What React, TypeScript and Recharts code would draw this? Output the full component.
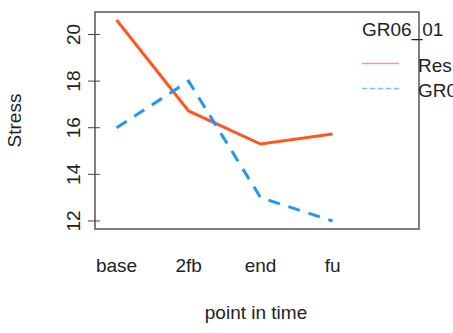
import { LineChart, Line, XAxis, YAxis, ReferenceArea } from "recharts";

const timePoints = ["base", "2fb", "end", "fu"];
const restValues = [20.62, 16.72, 15.3, 15.73];
const groupValues = [16.0, 18.0, 13.0, 12.0];
const seriesNames = ["Res", "GR0"];
const yTicks = [12, 14, 16, 18, 20];

const data = timePoints.map((t, i) => ({
  pos: i + 1,
  label: t,
  rest: restValues[i],
  group: groupValues[i],
}));

const FONT = "'Liberation Sans', Arial, sans-serif";
const RED = "#FF5722";
const BLUE = "#2196F3";

function YTick(props: any) {
  const { x, y, payload } = props;
  return (
    <g>
      <line x1={x + 1} x2={x + 13} y1={y} y2={y} stroke="#444" strokeWidth={1} />
      <text
        x={0}
        y={0}
        transform={`translate(${x - 7},${y}) rotate(-90)`}
        textAnchor="middle"
        fontSize={19}
        fontFamily={FONT}
        fill="#222"
      >
        {payload.value}
      </text>
    </g>
  );
}

function XTick(props: any) {
  const { x, payload } = props;
  return (
    <text x={x} y={272} textAnchor="middle" fontSize={19} fontFamily={FONT} fill="#222">
      {timePoints[payload.value - 1]}
    </text>
  );
}

function LegendBox() {
  return (
    <svg width={91} height={110} style={{ position: "absolute", left: 362, top: 0, overflow: "hidden" }}>
      <text x={0} y={36} fontSize={19} fontFamily={FONT} fill="#222">
        GR06_01
      </text>
      <line x1={0} x2={37} y1={63.5} y2={63.5} stroke={RED} strokeWidth={1.5} opacity={0.6} />
      <line x1={0} x2={37} y1={88.5} y2={88.5} stroke={BLUE} strokeWidth={1.5} strokeDasharray="5 3" opacity={0.6} />
      <text x={56} y={72} fontSize={19} fontFamily={FONT} fill="#222">
        {seriesNames[0]}
      </text>
      <text x={56} y={97} fontSize={19} fontFamily={FONT} fill="#222">
        {seriesNames[1]}
      </text>
    </svg>
  );
}

export default function App() {
  return (
    <div style={{ position: "absolute", left: 0, top: 0, width: 453, height: 333, overflow: "hidden", background: "#fff" }}>
      <LineChart
        width={453}
        height={333}
        data={data}
        margin={{ top: 12, right: 34, left: 35, bottom: 44 }}
      >
        <XAxis
          dataKey="pos"
          type="number"
          domain={[0.7, 5.2]}
          ticks={[1, 2, 3, 4]}
          axisLine={false}
          tickLine={false}
          tick={<XTick />}
          height={60}
        />
        <YAxis
          type="number"
          domain={[11.655, 20.965]}
          ticks={yTicks}
          axisLine={false}
          tickLine={false}
          tick={<YTick />}
          width={60}
          allowDataOverflow
          label={{
            value: "Stress",
            angle: -90,
            position: "insideLeft",
            dx: -26,
            style: { fontSize: 19, fontFamily: FONT, fill: "#222", textAnchor: "middle" },
          }}
        />
        <ReferenceArea
          x1={0.7}
          x2={5.2}
          y1={11.655}
          y2={20.965}
          fill="none"
          stroke="#555"
          strokeWidth={1.5}
          ifOverflow="visible"
        />
        <Line
          dataKey="rest"
          stroke={RED}
          strokeWidth={3}
          dot={false}
          type="linear"
          isAnimationActive={false}
        />
        <Line
          dataKey="group"
          stroke={BLUE}
          strokeWidth={3}
          strokeDasharray="12 9"
          dot={false}
          type="linear"
          isAnimationActive={false}
        />
      </LineChart>
      <div
        style={{
          position: "absolute",
          left: 256,
          top: 302,
          transform: "translateX(-50%)",
          whiteSpace: "nowrap",
          fontSize: 19,
          fontFamily: FONT,
          color: "#222",
          lineHeight: "22px",
        }}
      >
        point in time
      </div>
      <LegendBox />
    </div>
  );
}
